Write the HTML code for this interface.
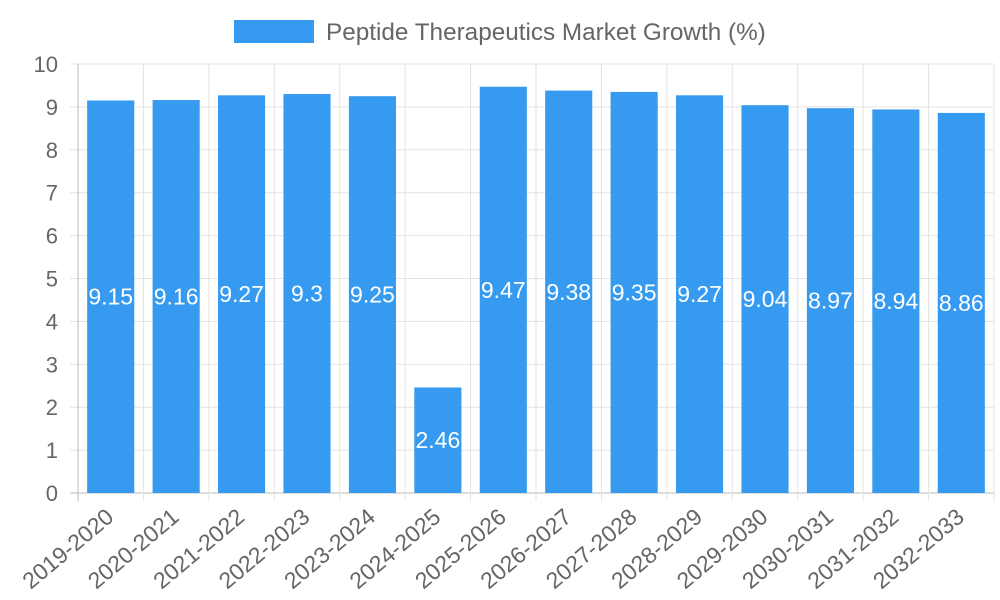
<!DOCTYPE html>
<html><head><meta charset="utf-8"><style>
html,body{margin:0;padding:0;background:#fff;width:1000px;height:600px;overflow:hidden}
svg{font-family:"Liberation Sans",sans-serif}
</style></head><body>
<svg id="chart" width="1000" height="600">
<g>
<rect x="234" y="20" width="80" height="23" fill="#369bf0"></rect>
<text x="326" y="40" font-size="24.3" fill="#666">Peptide Therapeutics Market Growth (%)</text>
</g>
<g id="grid"></g><g id="bars"></g><g id="labels"></g>
</svg>
<script>
const categories=["2019-2020","2020-2021","2021-2022","2022-2023","2023-2024","2024-2025","2025-2026","2026-2027","2027-2028","2028-2029","2029-2030","2030-2031","2031-2032","2032-2033"];
const values=[9.15,9.16,9.27,9.3,9.25,2.46,9.47,9.38,9.35,9.27,9.04,8.97,8.94,8.86];
const yTicks=[0,1,2,3,4,5,6,7,8,9,10];
const NS="http://www.w3.org/2000/svg";
const L=78,R=994,T=64,B=493,yMax=10;
const band=(R-L)/categories.length;
const x=i=>L+band*i;
const y=v=>B-(v/yMax)*(B-T);
function mk(tag,attrs,parent){const e=document.createElementNS(NS,tag);for(const k in attrs)e.setAttribute(k,attrs[k]);parent.appendChild(e);return e;}
const grid=document.getElementById('grid'),bars=document.getElementById('bars'),labels=document.getElementById('labels');
yTicks.forEach(t=>{
  const ln=mk('line',{x1:70,x2:R,y1:y(t),y2:y(t),stroke:t===0?'#bbb':'#e3e3e3','stroke-width':1},grid);
  
  
  const tx=mk('text',{x:58,y:y(t)+8,'text-anchor':'end','font-size':22,fill:'#666'},grid);
  tx.textContent=t;
  
  
});
for(let i=0;i<=categories.length;i++){
  const ln=mk('line',{x1:x(i),x2:x(i),y1:T,y2:B+8,stroke:i===0?'#bbb':'#e3e3e3','stroke-width':1},grid);
  
  
}
categories.forEach((c,i)=>{
  const bw=band*0.72,bx=x(i)+(band-bw)/2;
  const r=mk('rect',{x:bx,y:y(values[i]),width:bw,height:B-y(values[i]),fill:'#369bf0'},bars);
  
  
  const v=mk('text',{x:x(i)+band/2,y:(y(values[i])+B)/2+8,'text-anchor':'middle','font-size':23,fill:'#fff'},labels);
  v.textContent=values[i];
  
  
  const cx=x(i)+band/2-6,cy=B+14;
  const t=mk('text',{x:cx,y:cy,'text-anchor':'end','font-size':23,fill:'#666',transform:`rotate(-40 ${cx} ${cy})`,dy:'0.7em'},labels);
  t.textContent=c;
  
  
});
</script>
</body></html>
